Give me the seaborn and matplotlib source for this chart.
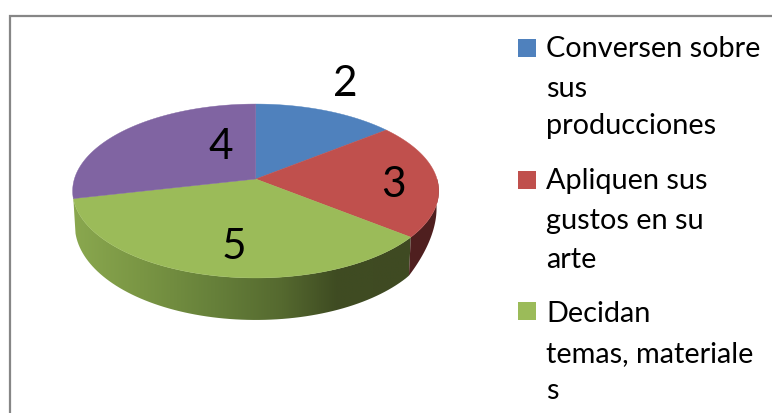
import numpy as np
import seaborn as sns
import matplotlib.pyplot as plt
from matplotlib.colors import LinearSegmentedColormap
from matplotlib.patches import Polygon, Rectangle

values = [2, 3, 5, 4]
value_labels = ['2', '3', '5', '4']
legend_lines = [
    ['Conversen sobre', 'sus', 'producciones'],
    ['Apliquen sus', 'gustos en su', 'arte'],
    ['Decidan', 'temas, materiale', 's'],
]
colors = ['#4F81BD', '#C0504D', '#9BBB59', '#8064A2']

sns.set_theme(style='white')
plt.rcParams['font.family'] = ['Lato', 'DejaVu Sans']

# perspective of the pie, fitted on the reference
cx, cy = 255.7, 179
rx, ry = 181.3, 85.3
k = 0.138


def top_edge(theta):
    u, v = np.sin(theta), np.cos(theta)
    w = 1 + k * v
    return cx + rx * u / w, cy - ry * v / w


def bottom_edge(theta):
    x, y = top_edge(theta)
    u, v = np.sin(theta), np.cos(theta)
    # wall gets thinner towards the right side
    depth = 33 - 9 * v - 80 * np.maximum(0, u - 0.78)
    return cx + (x - cx) * 0.988, y + depth


def wall(theta1, theta2):
    t = np.linspace(theta1, theta2, 80)
    xt, yt = top_edge(t)
    xb, yb = bottom_edge(t)
    return np.column_stack([np.r_[xt, xb[::-1]], np.r_[yt, yb[::-1]]])


fig = plt.figure(figsize=(7.72, 4.13), dpi=100)
ax = fig.add_axes([0, 0, 1, 1])

edges = np.cumsum([0] + values) / sum(values) * 2 * np.pi

# side walls first, only the front part shows
green_wall = LinearSegmentedColormap.from_list('green_wall', [
    (0.0, '#8AA84F'), (0.2, '#7A9644'), (0.42, '#66803A'),
    (0.62, '#55692F'), (0.78, '#3F4C22'), (1.0, '#3F4A22')])
grad = np.linspace(0, 1, 256).reshape(1, -1)
im = ax.imshow(grad, cmap=green_wall, extent=(72, 411, 325, 190), aspect='auto', zorder=1)
clip = Polygon(wall(edges[2], edges[3]), transform=ax.transData, fc='none', ec='none')
ax.add_patch(clip)
im.set_clip_path(clip)
ax.fill(*wall(np.pi / 2, edges[2]).T, color='#4F1F1F', lw=0, zorder=1)

# top face
for i, val in enumerate(values):
    t = np.linspace(edges[i], edges[i + 1], 80)
    xs, ys = top_edge(t)
    ax.fill(np.r_[cx, xs], np.r_[cy, ys], color=colors[i], lw=0.3, zorder=2)

# value labels
label_pos = [(345, 96), (393, 197), (234, 259), (221, 159)]
for txt, (x, y) in zip(value_labels, label_pos):
    ax.text(x, y, txt, fontsize=30.5, color='black', ha='center', va='baseline', zorder=3)

# legend
square_y = [48, 180, 311]
line_y = [[57, 97, 134], [189, 229, 268], [322, 362, 399]]
for i, lines in enumerate(legend_lines):
    ax.add_patch(Rectangle((518, square_y[i] - 9), 18, 18, color=colors[i], lw=0, zorder=3))
    for txt, y in zip(lines, line_y[i]):
        ax.text(546, y, txt, fontsize=20.8, color='black', ha='left', va='baseline', zorder=3)

# chart border, cut by the picture edge
ax.plot([10, 10, 772], [413, 16, 16], color='#868686', lw=1.6, solid_joinstyle='miter', zorder=4)

ax.set_xlim(0, 772)
ax.set_ylim(413, 0)
ax.axis('off')
fig.savefig('out.png', dpi=100, facecolor='white')
